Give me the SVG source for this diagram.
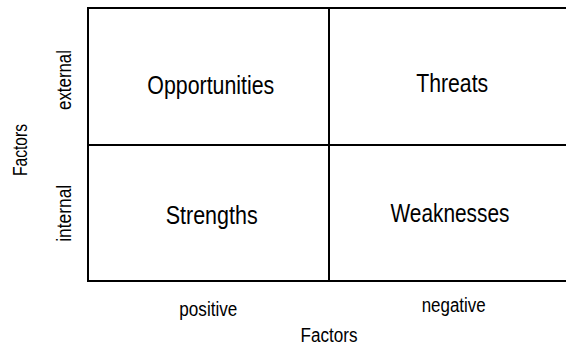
<svg xmlns="http://www.w3.org/2000/svg" width="566" height="352" viewBox="0 0 566 352">
<style>
text{font-family:"Liberation Sans",Arial,sans-serif;fill:#000;text-anchor:middle}
.big{font-size:26px}
.sm{font-size:20px}
.grid{fill:none;stroke:#000;stroke-width:2}
</style>
<rect width="566" height="352" fill="#fff"/>
<g id="connectors">
<rect class="grid" x="88" y="8" width="500" height="273"/>
<line class="grid" x1="329" y1="8" x2="329" y2="281"/>
<line class="grid" x1="88" y1="145" x2="588" y2="145"/>
</g>
<g id="opportunities"><text class="big" x="210.8" y="94" textLength="127" lengthAdjust="spacingAndGlyphs">Opportunities</text></g>
<g id="threats"><text class="big" x="452.2" y="91.7" textLength="72" lengthAdjust="spacingAndGlyphs">Threats</text></g>
<g id="strengths"><text class="big" x="211.7" y="224" textLength="92" lengthAdjust="spacingAndGlyphs">Strengths</text></g>
<g id="weaknesses"><text class="big" x="450" y="222" textLength="119" lengthAdjust="spacingAndGlyphs">Weaknesses</text></g>
<g id="label-external"><text class="sm" transform="translate(70.7,80) rotate(-90)" textLength="60" lengthAdjust="spacingAndGlyphs">external</text></g>
<g id="label-internal"><text class="sm" transform="translate(70.7,213.3) rotate(-90)" textLength="57" lengthAdjust="spacingAndGlyphs">internal</text></g>
<g id="label-factors-y"><text class="sm" transform="translate(26.7,150) rotate(-90)" textLength="52" lengthAdjust="spacingAndGlyphs">Factors</text></g>
<g id="label-positive"><text class="sm" x="208.3" y="316" textLength="58" lengthAdjust="spacingAndGlyphs">positive</text></g>
<g id="label-negative"><text class="sm" x="453.7" y="311.5" textLength="64" lengthAdjust="spacingAndGlyphs">negative</text></g>
<g id="label-factors-x"><text class="sm" x="329" y="341.7" textLength="57" lengthAdjust="spacingAndGlyphs">Factors</text></g>
</svg>
